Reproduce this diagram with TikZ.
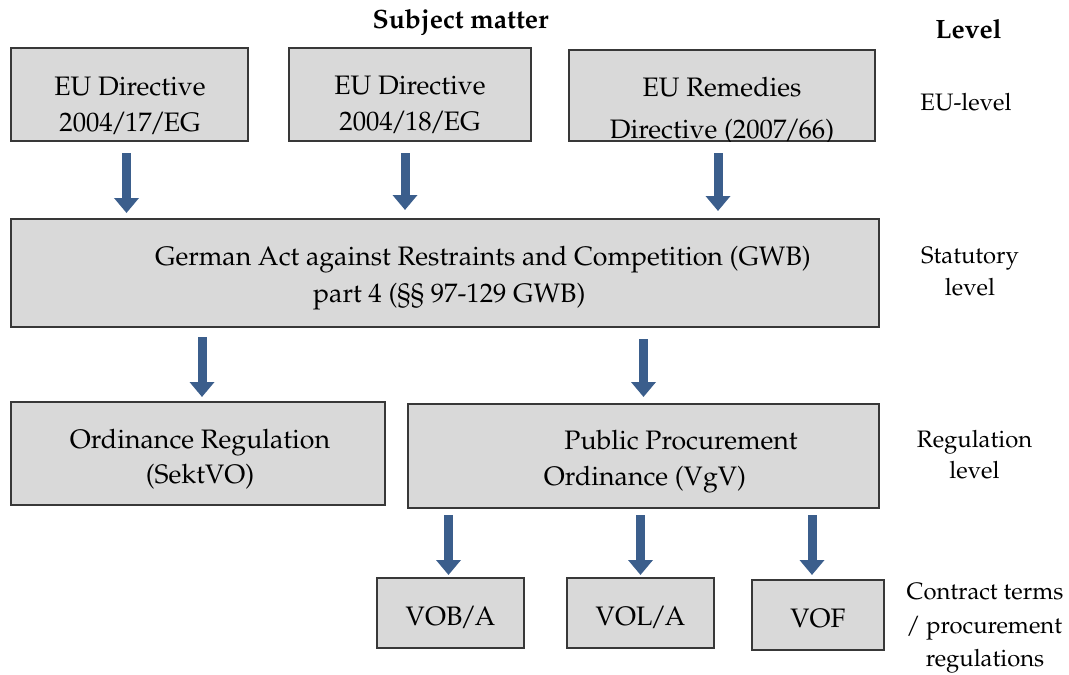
\documentclass[tikz,border=0pt]{standalone}
\IfFileExists{mathpazo.sty}{%
  \usepackage[T1]{fontenc}%
  \usepackage{mathpazo}%
  \newcommand{\boxsize}{\fontsize{26.7}{30}\selectfont}%
  \newcommand{\lvlsize}{\fontsize{23.8}{28}\selectfont}%
  \newcommand{\headsize}{\fontsize{26.5}{30}\selectfont}%
}{%
  \usepackage{fontspec}%
  \setmainfont{Liberation Serif}%
  \newcommand{\boxsize}{\fontsize{28}{32}\selectfont}%
  \newcommand{\lvlsize}{\fontsize{25}{30}\selectfont}%
  \newcommand{\headsize}{\fontsize{27}{30}\selectfont}%
}
\usetikzlibrary{arrows.meta}
% slash with tighter side bearings
\newcommand{\tsl}{\kern-2pt/\kern-2pt}
\definecolor{boxfill}{HTML}{D9D9D9}
\definecolor{boxline}{HTML}{383838}
\definecolor{flow}{HTML}{3B5E8C}
\tikzset{
  box/.style={draw=boxline, line width=1.5pt, fill=boxfill, inner sep=0pt, outer sep=0pt},
  boxtext/.style={anchor=base, inner sep=0pt, font=\boxsize},
  leveltext/.style={anchor=base, inner sep=0pt, font=\lvlsize},
  headtext/.style={anchor=base, inner sep=0pt, font=\headsize\bfseries},
  flowarrow/.style={draw=flow, line width=9pt, -{Triangle[width=24pt,length=15pt]}},
}
\begin{document}
\begin{tikzpicture}[x=1pt, y=-1pt]
\useasboundingbox (0,0) rectangle (1069,675);

% headings
\node[headtext] (hsubj) at (460.5,28) {Subject matter};
\node[headtext] (hlevel) at (968.5,38) {Level};

% EU level
\node[box, minimum width=237pt, minimum height=93pt] (eu1) at (129.5,94.5) {};
\node[boxtext] (eu1a) at (130,95) {EU Directive};
\node[boxtext] (eu1b) at (130,131) {2004\tsl 17\tsl EG};

\node[box, minimum width=242pt, minimum height=93pt] (eu2) at (410,94.5) {};
\node[boxtext] (eu2a) at (410,94) {EU Directive};
\node[boxtext] (eu2b) at (410,130) {2004\tsl 18\tsl EG};

\node[box, minimum width=306pt, minimum height=91pt] (eu3) at (722,95.5) {};
\begin{scope}
  \clip (eu3.south west) rectangle (eu3.north east);
  \node[boxtext] (eu3a) at (722,96) {EU Remedies};
  \node[boxtext] (eu3b) at (722,138.5) {Directive (2007\tsl 66)};
\end{scope}

% statutory level
\node[box, minimum width=868pt, minimum height=108pt] (gwb) at (445,273) {};
\node[boxtext] (gwba) at (483,265) {German Act against Restraints and Competition (GWB)};
\node[boxtext, anchor=base west] (gwbb) at (313,302) {part 4 (\S\S{} 97-129 GWB)};

% regulation level
\node[box, minimum width=374pt, minimum height=103pt] (sekt) at (198,453.5) {};
\node[boxtext] (sekta) at (200,448) {Ordinance Regulation};
\node[boxtext] (sektb) at (200,483) {(SektVO)};

\node[box, minimum width=471pt, minimum height=104pt] (vgv) at (643.5,456) {};
\node[boxtext] (vgva) at (681,449) {Public Procurement};
\node[boxtext] (vgvb) at (645,485) {Ordinance (VgV)};

% contract terms
\node[box, minimum width=147pt, minimum height=70pt] (vob) at (450.5,613) {};
\node[boxtext] (voba) at (450.5,625) {VOB\tsl A};
\node[box, minimum width=147pt, minimum height=70pt] (vol) at (640.5,613) {};
\node[boxtext] (vola) at (640.5,625) {VOL\tsl A};
\node[box, minimum width=132pt, minimum height=70pt] (vof) at (818,615) {};
\node[boxtext] (vofa) at (818,627) {VOF};

% level labels
\node[leveltext] (leu) at (966,110) {EU-level};
\node[leveltext] (lst1) at (970,263) {Statutory};
\node[leveltext] (lst2) at (970,295) {level};
\node[leveltext] (lrg1) at (974.5,447) {Regulation};
\node[leveltext] (lrg2) at (974.5,478) {level};
\node[leveltext] (lct1) at (985,599) {Contract terms};
\node[leveltext] (lct2) at (984,633) {/ procurement};
\node[leveltext] (lct3) at (985,666) {regulations};

% arrows
\draw[flowarrow] ([xshift=-3pt,yshift=-12pt]eu1.south) -- ([xshift=-3pt,yshift=6pt]eu1.south |- gwb.north);
\draw[flowarrow] ([xshift=-5pt,yshift=-12pt]eu2.south) -- ([xshift=-5pt,yshift=9pt]eu2.south |- gwb.north);
\draw[flowarrow] ([xshift=-4pt,yshift=-12pt]eu3.south) -- ([xshift=-4pt,yshift=8pt]eu3.south |- gwb.north);

\draw[flowarrow] ([xshift=4pt,yshift=-10pt]gwb.south -| sekt.north) -- ([xshift=4pt,yshift=5pt]sekt.north);
\draw[flowarrow] ([yshift=-12pt]gwb.south -| vgv.north) -- ([yshift=7pt]vgv.north);

\draw[flowarrow] ([xshift=-2pt,yshift=-7pt]vgv.south -| vob.north) -- ([xshift=-2pt,yshift=3pt]vob.north);
\draw[flowarrow] ([yshift=-7pt]vgv.south -| vol.north) -- ([yshift=3pt]vol.north);
\draw[flowarrow] ([xshift=-6pt,yshift=-7pt]vgv.south -| vof.north) -- ([xshift=-6pt,yshift=5pt]vof.north);
\end{tikzpicture}
\end{document}
